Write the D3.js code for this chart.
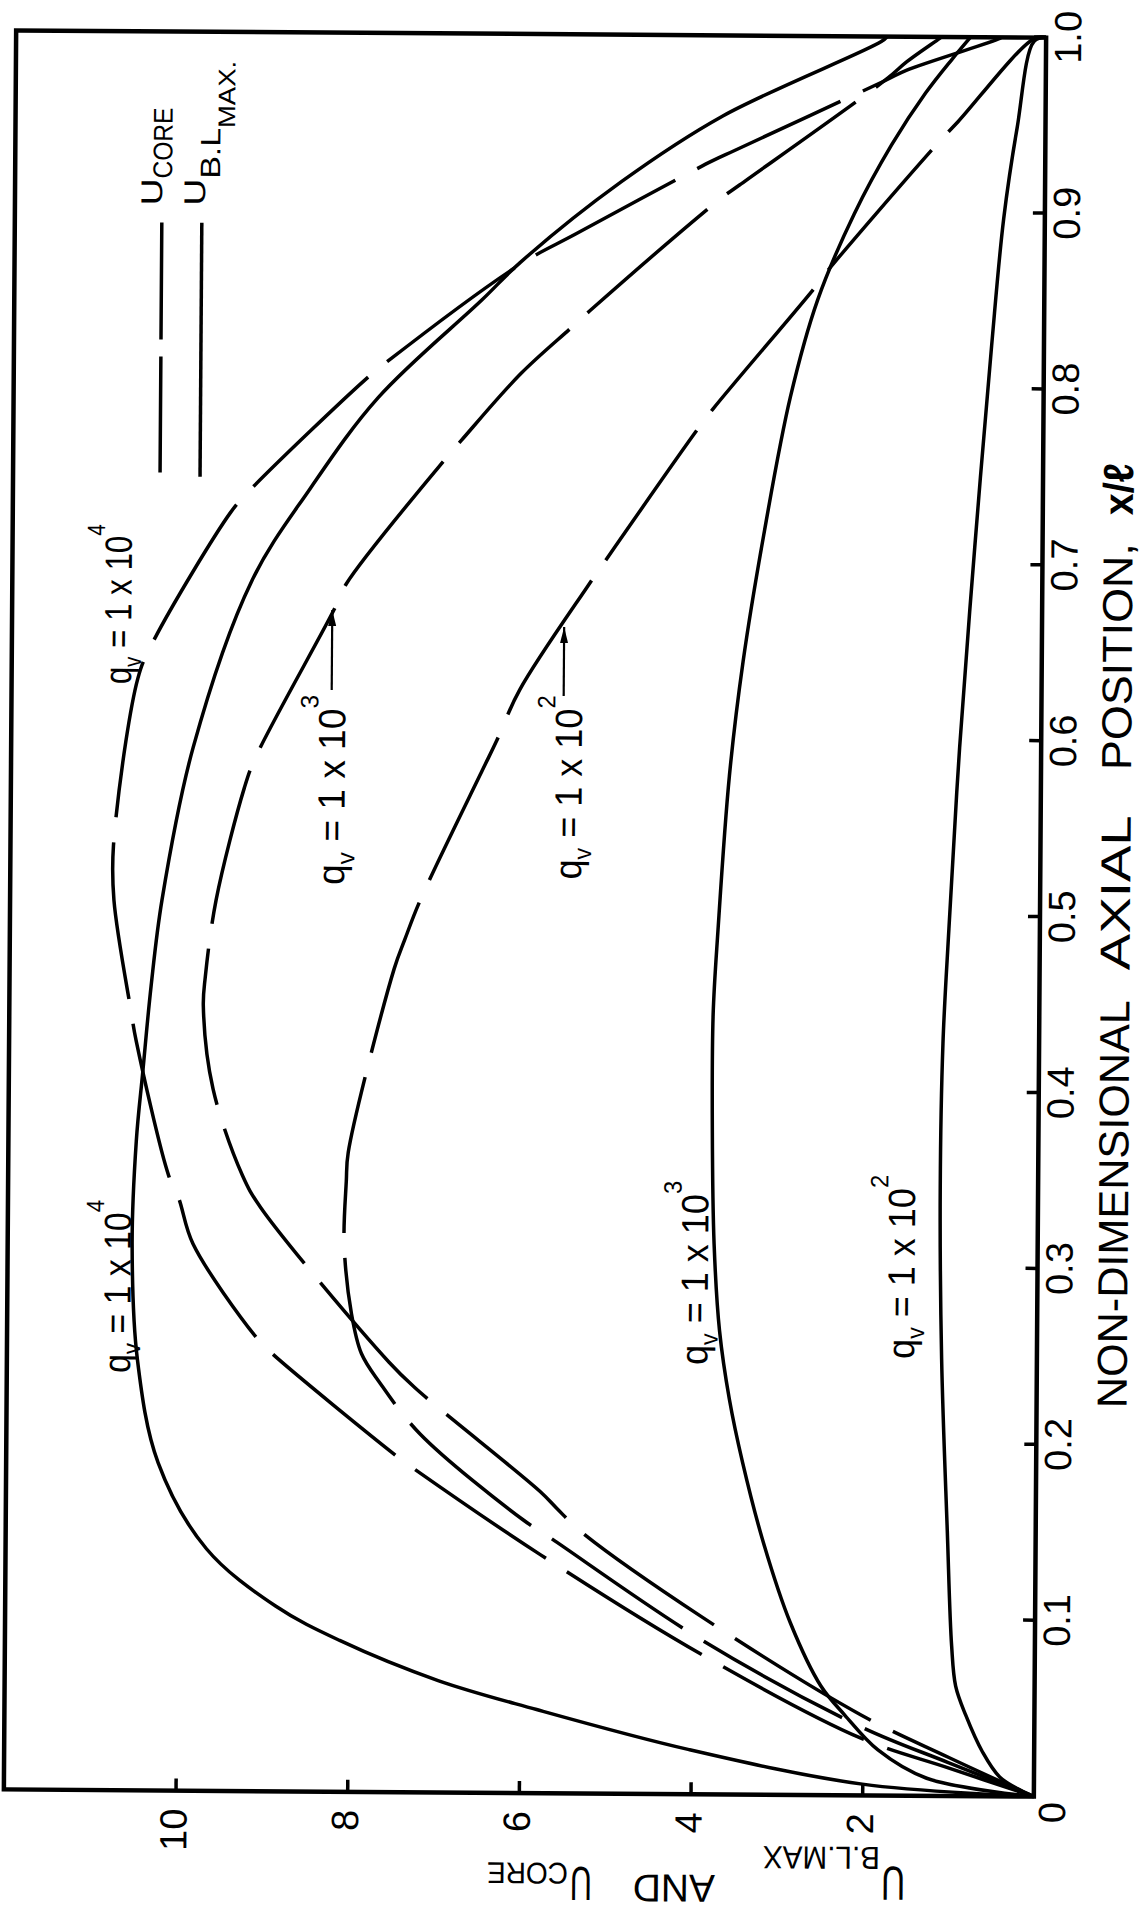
<!DOCTYPE html>
<html>
<head>
<meta charset="utf-8">
<script src="https://cdn.jsdelivr.net/npm/d3@7"></script>
<style>
  body { margin: 0; background: #fff; }
  text { font-family: 'Liberation Sans', Arial, sans-serif; fill: #000; }
</style>
</head>
<body>
<svg id="chart"></svg>
<script>
// axis ticks
const xTicks = [0.1, 0.2, 0.3, 0.4, 0.5, 0.6, 0.7, 0.8, 0.9, 1.0];
const xTickLabels = ["0.1", "0.2", "0.3", "0.4", "0.5", "0.6", "0.7", "0.8", "0.9", "1.0"];
const uTicks = [2, 4, 6, 8, 10];
const uTickLabels = ["2", "4", "6", "8", "10"];
const qExponents = ["2", "3", "4"];

// U B.L. MAX (solid), q_v = 1e2, 1e3, 1e4
const blQ2X = [0, 0.0036, 0.011, 0.025, 0.046, 0.0625, 0.0853, 0.1507, 0.2484, 0.3462, 0.428, 0.4929, 0.596, 0.710, 0.8245, 0.8967, 0.9487, 0.9978, 1.0];
const blQ2U = [0, 0.16, 0.40, 0.60, 0.80, 0.92, 0.97, 1.03, 1.11, 1.14, 1.12, 1.06, 0.95, 0.79, 0.61, 0.48, 0.33, 0.14, 0.0];
const blQ3X = [0, 0.010, 0.0259, 0.0456, 0.062, 0.0977, 0.1431, 0.1887, 0.2248, 0.2637, 0.3128, 0.3779, 0.4431, 0.4914, 0.579, 0.644, 0.716, 0.7947, 0.850, 0.8991, 0.9385, 0.968, 0.9876, 1.0];
const blQ3U = [0, 1.25, 1.82, 2.21, 2.49, 2.85, 3.17, 3.42, 3.58, 3.70, 3.77, 3.80, 3.80, 3.75, 3.63, 3.48, 3.25, 2.95, 2.64, 2.22, 1.79, 1.40, 1.09, 0.88];
const blQ4X = [0, 0.0064, 0.0253, 0.0475, 0.0636, 0.086, 0.1053, 0.1376, 0.1864, 0.2452, 0.3103, 0.3691, 0.4084, 0.4573, 0.5063, 0.593, 0.688, 0.7405, 0.7928, 0.8487, 0.870, 0.9163, 0.9542, 0.9971, 1.0];
const blQ4U = [0, 2.0, 4.02, 5.80, 6.95, 8.10, 8.85, 9.66, 10.23, 10.48, 10.55, 10.51, 10.44, 10.35, 10.23, 9.88, 9.21, 8.54, 7.75, 6.55, 6.11, 4.94, 3.76, 1.92, 1.85];

// U CORE (dashed), q_v = 1e2, 1e3, 1e4
const coreQ2X = [0, 0.019, 0.039, 0.0874, 0.1457, 0.1552, 0.2037, 0.2331, 0.2492, 0.272, 0.3111, 0.3472, 0.3634, 0.468, 0.4845, 0.5073, 0.5811, 0.5975, 0.6271, 0.686, 0.6975, 0.7745, 0.7876, 0.8566, 0.8664, 0.9403, 0.9518, 0.9994, 1.0];
const coreQ2U = [0, 1.0, 2.02, 3.87, 5.67, 5.97, 7.18, 7.66, 7.87, 7.99, 8.08, 8.06, 8.04, 7.52, 7.40, 7.22, 6.51, 6.35, 6.08, 5.30, 5.14, 4.05, 3.85, 2.68, 2.53, 1.24, 1.02, 0.14, 0.0];
const coreQ3X = [0, 0.022, 0.0457, 0.1004, 0.1489, 0.1619, 0.1716, 0.2298, 0.2445, 0.3321, 0.3499, 0.399, 0.4461, 0.4624, 0.5064, 0.5703, 0.5868, 0.6719, 0.6866, 0.7572, 0.7687, 0.8065, 0.8327, 0.8426, 0.9068, 0.915, 0.976, 0.9858, 0.9992, 1.0];
const coreQ3U = [0, 1.0, 2.02, 3.87, 5.30, 5.58, 5.78, 7.24, 7.55, 9.06, 9.27, 9.62, 9.74, 9.72, 9.60, 9.28, 9.16, 8.25, 8.11, 6.98, 6.78, 6.10, 5.52, 5.30, 3.79, 3.56, 1.85, 1.62, 1.24, 1.22];
const coreQ4X = [0, 0.016, 0.0325, 0.0791, 0.1356, 0.1843, 0.1906, 0.2488, 0.257, 0.3108, 0.3366, 0.3496, 0.4262, 0.4424, 0.506, 0.537, 0.632, 0.6516, 0.727, 0.7385, 0.8026, 0.8124, 0.869, 0.8866, 0.9286, 0.9346, 0.975, 0.981, 0.9993, 1.0];
const coreQ4U = [0, 1.0, 2.02, 3.87, 5.77, 7.26, 7.44, 8.91, 9.08, 9.84, 10.01, 10.13, 10.52, 10.58, 10.79, 10.80, 10.53, 10.37, 9.46, 9.26, 7.91, 7.67, 6.11, 5.46, 3.88, 3.62, 1.87, 1.62, 0.54, 0.52];

const W = 1759, H = 1030;
const DASH = 158, GAP = 25;

const svg = d3.select("#chart").attr("width", 1143).attr("height", 1912);
svg.append("rect").attr("width", 1143).attr("height", 1912).attr("fill", "#fff");

svg.append("defs").append("marker")
  .attr("id", "arrow").attr("viewBox", "0 -5 16 10")
  .attr("refX", 16).attr("refY", 0)
  .attr("markerWidth", 16).attr("markerHeight", 10)
  .attr("markerUnits", "userSpaceOnUse").attr("orient", "auto")
  .append("path").attr("d", "M0,-4L16,0L0,4Z").attr("fill", "#000");

// the scanned page is tilted a little; the chart itself is turned on its side
const root = svg.append("g").attr("transform", "rotate(0.4,525,913)");
const g = root.append("g").attr("transform", `translate(10,${34 + W}) rotate(-90)`);

const x = d3.scaleLinear().domain([0, 1]).range([0, W]);
const y = d3.scaleLinear().domain([0, 12]).range([H, 0]);

// axes
const xAxis = g.append("g").attr("transform", `translate(0,${H})`)
  .call(d3.axisBottom(x).tickValues(xTicks).tickSize(-12).tickPadding(8)
    .tickFormat((d, i) => xTickLabels[i]));
const yAxis = g.append("g")
  .call(d3.axisLeft(y).tickValues(uTicks).tickSize(-12).tickPadding(18)
    .tickFormat((d, i) => uTickLabels[i]));
[xAxis, yAxis].forEach(a => {
  a.select(".domain").remove();
  a.attr("font-family", null).attr("font-size", 38);
  a.selectAll("line").attr("stroke", "#000").attr("stroke-width", 3.5);
  a.selectAll("text").attr("fill", "#000");
});
yAxis.selectAll("text").attr("dy", "0.28em");
g.append("text").attr("x", -16).attr("y", 1048).attr("dy", "0.35em")
  .attr("text-anchor", "middle").attr("font-size", 38).text("0");

// curves
const line = d3.line()
  .x(d => x(d[0])).y(d => y(d[1]))
  .curve(d3.curveCatmullRom.alpha(0.5));

const curves = [
  { xs: blQ2X, us: blQ2U, gapAt: null },
  { xs: blQ3X, us: blQ3U, gapAt: null },
  { xs: blQ4X, us: blQ4U, gapAt: null },
  { xs: coreQ2X, us: coreQ2U, gapAt: [0.781, 3.95] },
  { xs: coreQ3X, us: coreQ3U, gapAt: [0.679, 8.18] },
  { xs: coreQ4X, us: coreQ4U, gapAt: [0.1875, 7.35] }
];

curves.forEach(c => {
  const pts = c.xs.map((v, i) => [v, c.us[i]]);
  const p = g.append("path").attr("d", line(pts))
    .attr("fill", "none").attr("stroke", "#000").attr("stroke-width", 3.5);
  if (c.gapAt) {
    p.attr("stroke-dasharray", `${DASH} ${GAP}`);
    // put one gap where the original has one
    const node = p.node();
    const L = node.getTotalLength();
    const tx = x(c.gapAt[0]), ty = y(c.gapAt[1]);
    let best = 0, bd = Infinity;
    for (let s = 0; s <= L; s += 1) {
      const q = node.getPointAtLength(s);
      const d = (q.x - tx) ** 2 + (q.y - ty) ** 2;
      if (d < bd) { bd = d; best = s; }
    }
    const P = DASH + GAP;
    p.attr("stroke-dashoffset", ((DASH + GAP / 2 - best) % P + P) % P);
  }
});

// frame
g.append("rect").attr("width", W).attr("height", H)
  .attr("fill", "none").attr("stroke", "#000").attr("stroke-width", 4.5);

// curve labels
function qLabel(x0, u0, exp, len) {
  const t = g.append("text").attr("x", x(x0)).attr("y", y(u0))
    .attr("font-size", 38).attr("textLength", len).attr("lengthAdjust", "spacingAndGlyphs");
  t.append("tspan").text("q");
  t.append("tspan").attr("dy", 10).attr("font-size", 25).text("v");
  t.append("tspan").attr("dy", -10).text(" = 1 x 10");
  t.append("tspan").attr("dy", -27).attr("font-size", 25).text(exp);
}
qLabel(0.2372, 10.565, qExponents[2], 173);
qLabel(0.244, 3.84, qExponents[1], 184);
qLabel(0.2483, 1.432, qExponents[0], 184);
qLabel(0.6287, 10.61, qExponents[2], 160);
qLabel(0.5155, 8.11, qExponents[1], 190);
qLabel(0.5195, 5.351, qExponents[0], 184);

function arrow(x1, x2, u) {
  g.append("line").attr("x1", x(x1)).attr("x2", x(x2)).attr("y1", y(u)).attr("y2", y(u))
    .attr("stroke", "#000").attr("stroke-width", 2.2).attr("marker-end", "url(#arrow)");
}
arrow(0.6263, 0.6718, 8.27);
arrow(0.6238, 0.663, 5.567);

// legend
g.append("line").attr("x1", 1318).attr("x2", 1568).attr("y1", 147).attr("y2", 147)
  .attr("stroke", "#000").attr("stroke-width", 3.5).attr("stroke-dasharray", "116 17 117");
g.append("line").attr("x1", 1314).attr("x2", 1568).attr("y1", 187).attr("y2", 187)
  .attr("stroke", "#000").attr("stroke-width", 3.5);

function txt(px, py, str, size, len, rot) {
  const t = g.append("text").attr("font-size", size).text(str);
  if (rot) t.attr("transform", `translate(${px},${py}) rotate(${rot})`);
  else t.attr("x", px).attr("y", py);
  if (len) t.attr("textLength", len).attr("lengthAdjust", "spacingAndGlyphs");
  return t;
}
txt(1585, 147, "U", 30, 27);
txt(1612, 157, "CORE", 27, 71);
txt(1585, 190, "U", 30, 27);
txt(1612, 205, "B.L", 28, 51);
txt(1663, 219.5, "MAX.", 24, 67);

// x axis title (runs along the right side)
txt(389, 1120, "NON-DIMENSIONAL", 42, 408);
txt(827, 1120, "AXIAL", 42, 155);
txt(1027, 1120, "POSITION,", 42, 227);
txt(1282, 1120, "x/\u2113", 42, 52).attr("font-weight", "bold");

// y axis title (upside down along the bottom)
txt(-71, 902, "U", 48, 24, -90);
txt(-51.5, 876.5, "B.L.MAX", 32, 117, -90);
txt(-80.7, 711.7, "AND", 39, 82, -90);
txt(-73.5, 588.7, "U", 48, 22, -90);
txt(-69.7, 564.7, "CORE", 30, 81, -90);
</script>
</body>
</html>
